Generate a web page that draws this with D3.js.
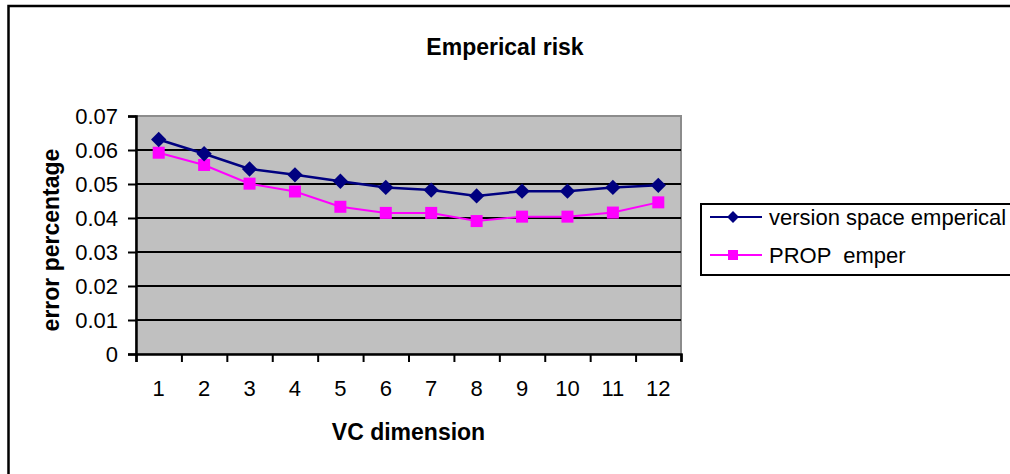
<!DOCTYPE html>
<html>
<head>
<meta charset="utf-8">
<script src="https://d3js.org/d3.v7.min.js"></script>
<style>
  body { margin: 0; background: #fff; }
  text { font-family: "Liberation Sans", Arial, sans-serif; fill: #000; }
</style>
</head>
<body>
<svg width="1010" height="474"></svg>
<script>
// values
var categories = ["1", "2", "3", "4", "5", "6", "7", "8", "9", "10", "11", "12"];
var versionSpace = [0.0631, 0.0589, 0.0544, 0.0527, 0.0508, 0.0490, 0.0482, 0.0465, 0.0479, 0.0479, 0.0490, 0.0496];
var propEmper = [0.0592, 0.0556, 0.0501, 0.0478, 0.0433, 0.0415, 0.0415, 0.0391, 0.0404, 0.0404, 0.0416, 0.0446];
var yTicks = [0, 0.01, 0.02, 0.03, 0.04, 0.05, 0.06, 0.07];
var seriesNames = ["version space emperical", "PROP  emper"];

var svg = d3.select("svg");

var plotLeft = 136, plotRight = 681, plotTop = 116, plotBottom = 354;

var x = d3.scaleBand().domain(categories).range([plotLeft, plotRight]);
var xEdge = d3.scaleLinear().domain([0, categories.length]).range([plotLeft, plotRight]);
var y = d3.scaleLinear().domain([0, 0.07]).range([plotBottom, plotTop]);

// outer chart border (cut off at the right and bottom)
svg.append("rect")
    .attr("x", 8.5).attr("y", 6)
    .attr("width", 1020).attr("height", 500)
    .style("fill", "none")
    .style("stroke", "#000")
    .style("stroke-width", 2.5);

// plot area
svg.append("rect")
    .attr("x", plotLeft).attr("y", plotTop)
    .attr("width", plotRight - plotLeft).attr("height", plotBottom - plotTop)
    .style("fill", "#c0c0c0")
    .style("stroke", "#8c8c8c")
    .style("stroke-width", 2);

// gridlines
svg.append("g")
  .selectAll("line")
  .data(yTicks.filter(function(d) { return d > 0 && d < 0.07; }))
  .enter().append("line")
    .attr("x1", plotLeft).attr("x2", plotRight)
    .attr("y1", function(d) { return y(d); })
    .attr("y2", function(d) { return y(d); })
    .style("stroke", "#000")
    .style("stroke-width", 2);

// y axis
var yAxis = svg.append("g")
    .attr("transform", "translate(" + plotLeft + ",0)")
    .call(d3.axisLeft(y).tickValues(yTicks).tickSize(8).tickPadding(10)
      .tickFormat(function(d) { return d === 0 ? "0" : d.toFixed(2); }));
yAxis.select(".domain").style("stroke", "#000").style("stroke-width", 2.5);
yAxis.selectAll(".tick line").style("stroke", "#000").style("stroke-width", 2);
yAxis.selectAll("text").style("font-size", "22px").style("font-family", "Liberation Sans, Arial, sans-serif");

// x axis: tick marks at category boundaries
var xTicks = svg.append("g")
    .attr("transform", "translate(0," + plotBottom + ")")
    .call(d3.axisBottom(xEdge).ticks(categories.length).tickSize(8).tickFormat(""));
xTicks.select(".domain").style("stroke", "#000").style("stroke-width", 2.5);
xTicks.selectAll(".tick line").style("stroke", "#000").style("stroke-width", 2);

// x axis labels at category centres
var xLabels = svg.append("g")
    .attr("transform", "translate(0," + plotBottom + ")")
    .call(d3.axisBottom(x).tickSize(0).tickPadding(26));
xLabels.select(".domain").remove();
xLabels.selectAll("text").style("font-size", "22px").style("font-family", "Liberation Sans, Arial, sans-serif");

// titles
svg.append("text")
    .attr("x", 505).attr("y", 55)
    .attr("text-anchor", "middle")
    .style("font-size", "23px").style("font-weight", "bold")
    .text("Emperical risk");

svg.append("text")
    .attr("x", (plotLeft + plotRight) / 2).attr("y", 440)
    .attr("text-anchor", "middle")
    .style("font-size", "23px").style("font-weight", "bold")
    .text("VC dimension");

svg.append("text")
    .attr("text-anchor", "middle")
    .attr("transform", "translate(59,240)rotate(-90)")
    .style("font-size", "23px").style("font-weight", "bold")
    .text("error percentage");

// series
var line = d3.line()
    .x(function(d, i) { return x(categories[i]) + x.bandwidth() / 2; })
    .y(function(d) { return y(d); });

svg.append("path")
    .datum(propEmper)
    .attr("d", line)
    .style("fill", "none")
    .style("stroke", "#ff00ff")
    .style("stroke-width", 2);

svg.append("g")
  .selectAll("rect")
  .data(propEmper)
  .enter().append("rect")
    .attr("x", function(d, i) { return x(categories[i]) + x.bandwidth() / 2 - 6; })
    .attr("y", function(d) { return y(d) - 6; })
    .attr("width", 12).attr("height", 12)
    .style("fill", "#ff00ff");

svg.append("path")
    .datum(versionSpace)
    .attr("d", line)
    .style("fill", "none")
    .style("stroke", "#000080")
    .style("stroke-width", 2.5);

var diamond = d3.symbol().type(d3.symbolDiamond2).size(150);
svg.append("g")
  .selectAll("path")
  .data(versionSpace)
  .enter().append("path")
    .attr("d", diamond)
    .attr("transform", function(d, i) {
      return "translate(" + (x(categories[i]) + x.bandwidth() / 2) + "," + y(d) + ")";
    })
    .style("fill", "#000080");

// legend
var legend = svg.append("g");
legend.append("rect")
    .attr("x", 701).attr("y", 204)
    .attr("width", 330).attr("height", 71)
    .style("fill", "#fff")
    .style("stroke", "#000")
    .style("stroke-width", 2);

var legendRows = [
  { name: seriesNames[0], color: "#000080", y: 217, shape: "diamond" },
  { name: seriesNames[1], color: "#ff00ff", y: 255, shape: "square" }
];
legendRows.forEach(function(r) {
  legend.append("line")
      .attr("x1", 710).attr("x2", 762)
      .attr("y1", r.y).attr("y2", r.y)
      .style("stroke", r.color).style("stroke-width", 2);
  if (r.shape === "diamond") {
    legend.append("path")
        .attr("d", d3.symbol().type(d3.symbolDiamond2).size(90))
        .attr("transform", "translate(733," + r.y + ")")
        .style("fill", r.color);
  } else {
    legend.append("rect")
        .attr("x", 728).attr("y", r.y - 5)
        .attr("width", 10).attr("height", 10)
        .style("fill", r.color);
  }
  legend.append("text")
      .attr("x", 769).attr("y", r.y + 8)
      .style("font-size", "22px")
      .style("white-space", "pre")
      .attr("xml:space", "preserve")
      .text(r.name);
});
</script>
</body>
</html>
